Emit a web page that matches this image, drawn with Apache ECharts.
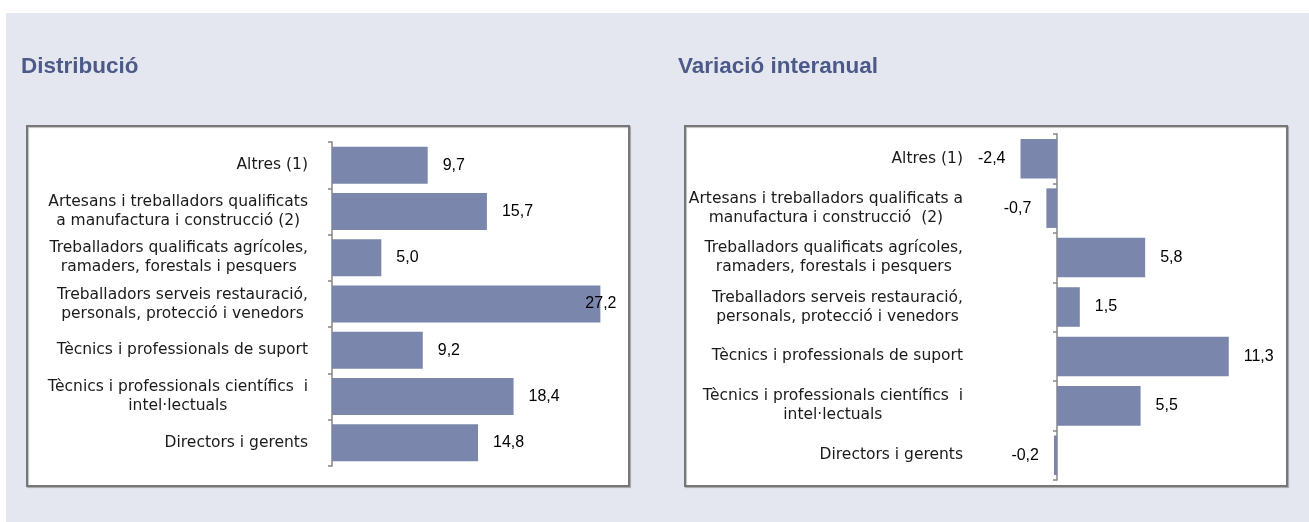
<!DOCTYPE html>
<html>
<head>
<meta charset="utf-8">
<script src="https://cdn.jsdelivr.net/npm/echarts@6/dist/echarts.min.js"></script>
<style>
  html, body { margin: 0; padding: 0; background: #fff; }
  #chart { width: 1309px; height: 522px; }
</style>
</head>
<body>
<div id="chart"></div>
<script>
// categories (line breaks as in each panel)
const distCategories = [
    'Altres (1)',
    'Artesans i treballadors qualificats\na manufactura i construcció (2)',
    'Treballadors qualificats agrícoles,\nramaders, forestals i pesquers',
    'Treballadors serveis restauració,\npersonals, protecció i venedors',
    'Tècnics i professionals de suport',
    'Tècnics i professionals científics  i\nintel·lectuals',
    'Directors i gerents'
];
const varCategories = [
    'Altres (1)',
    'Artesans i treballadors qualificats a\nmanufactura i construcció  (2)',
    'Treballadors qualificats agrícoles,\nramaders, forestals i pesquers',
    'Treballadors serveis restauració,\npersonals, protecció i venedors',
    'Tècnics i professionals de suport',
    'Tècnics i professionals científics  i\nintel·lectuals',
    'Directors i gerents'
];
const distValues = [9.7, 15.7, 5.0, 27.2, 9.2, 18.4, 14.8];
const varValues = [-2.4, -0.7, 5.8, 1.5, 11.3, 5.5, -0.2];

const distRange = [0, 30];
const varRange = [-5, 15];

const BAR_COLOR = '#7a86ab';
const AXIS_COLOR = '#868686';
const TITLE_COLOR = '#4d5a89';

function fmt(v) {
    return v.toFixed(1).replace('.', ',');
}

// centre the lines of each label, block stays right aligned
function catLabel(value) {
    return value.split('\n').map(l => '{c|' + l + '}').join('\n');
}

function buildItems(values, max) {
    return values.map(v => {
        const item = { value: v, label: {} };
        if (v < 0) item.label.position = 'left';
        if (v / max > 0.85) item.label.distance = -15;
        return item;
    });
}

function yAxisFor(gridIndex, data, margin) {
    return {
        type: 'category',
        gridIndex: gridIndex,
        data: data,
        inverse: true,
        axisLine: { onZero: true, lineStyle: { color: AXIS_COLOR, width: 1.5 } },
        axisTick: { show: true, length: 4, lineStyle: { color: AXIS_COLOR, width: 1.5 } },
        axisLabel: {
            margin: margin,
            formatter: catLabel,
            color: '#1a1a1a',
            rich: {
                c: { align: 'center', fontFamily: 'DejaVu Sans', fontSize: 15.5, lineHeight: 19, color: '#1a1a1a' }
            }
        }
    };
}

function seriesFor(index, values, max) {
    return {
        type: 'bar',
        xAxisIndex: index,
        yAxisIndex: index,
        barCategoryGap: '20%',
        data: buildItems(values, max),
        itemStyle: { color: BAR_COLOR },
        label: {
            show: true,
            position: 'right',
            distance: 15,
            formatter: p => fmt(p.value),
            fontFamily: 'Liberation Sans',
            fontSize: 16,
            color: '#000'
        },
        emphasis: { disabled: true }
    };
}

function panelBox(x) {
    return {
        type: 'rect', z: -90,
        shape: { x: x, y: 126, width: 602, height: 360 },
        style: { fill: '#fff', stroke: '#777', lineWidth: 2, shadowColor: 'rgba(0,0,0,0.25)', shadowOffsetX: 1, shadowOffsetY: 1, shadowBlur: 1 }
    };
}

function titleText(x, text) {
    return {
        type: 'text', z: 10, x: x, y: 67,
        style: { text: text, fontFamily: 'Liberation Sans', fontWeight: 'bold', fontSize: 22.5, fill: TITLE_COLOR, verticalAlign: 'middle', textVerticalAlign: 'middle' }
    };
}

function initChart() {
    const chartDom = document.getElementById('chart');
    const chart = echarts.init(chartDom);
    const option = {
        animation: false,
        graphic: [
            { type: 'rect', z: -100, shape: { x: 6, y: 13, width: 1303, height: 509 }, style: { fill: '#e4e7ef' } },
            panelBox(27),
            panelBox(685),
            titleText(21, 'Distribució'),
            titleText(678, 'Variació interanual')
        ],
        grid: [
            { left: 332, top: 142, width: 296, height: 324 },
            { left: 981, top: 134, width: 304, height: 346 }
        ],
        xAxis: [
            { type: 'value', gridIndex: 0, min: distRange[0], max: distRange[1], show: false },
            { type: 'value', gridIndex: 1, min: varRange[0], max: varRange[1], show: false }
        ],
        yAxis: [
            yAxisFor(0, distCategories, 24),
            yAxisFor(1, varCategories, 18)
        ],
        series: [
            seriesFor(0, distValues, distRange[1]),
            seriesFor(1, varValues, varRange[1])
        ]
    };
    chart.setOption(option);
}

document.addEventListener('DOMContentLoaded', initChart);
</script>
</body>
</html>
